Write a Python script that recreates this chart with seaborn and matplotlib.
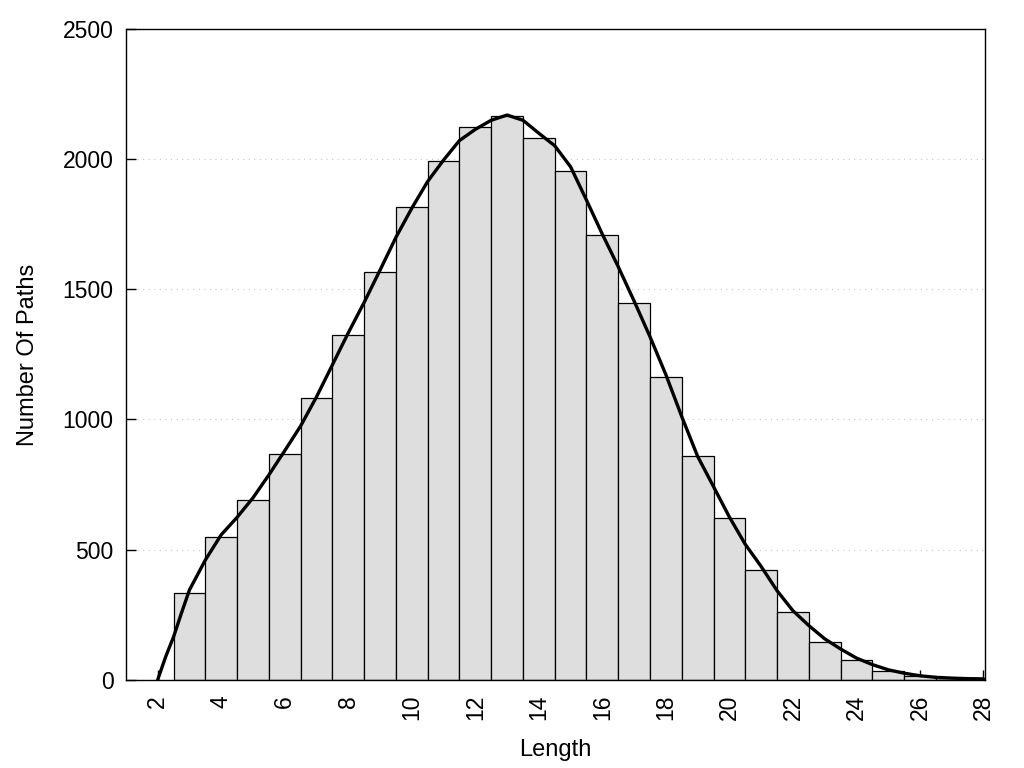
import numpy as np
import pandas as pd
import matplotlib
matplotlib.use("Agg")
import matplotlib.pyplot as plt
import seaborn as sns

# path length histogram (bin centres) and counts
lengths = [3, 4, 5, 6, 7, 8, 9, 10, 11, 12, 13, 14, 15, 16, 17, 18,
           19, 20, 21, 22, 23, 24, 25, 26, 27]
counts = [335, 550, 690, 868, 1082, 1325, 1565, 1815, 1993, 2125, 2168, 2080,
          1955, 1710, 1448, 1165, 858, 620, 420, 260, 145, 77, 32, 13, 5]

# smoothed curve
curve_x = [2, 2.25, 2.5, 2.75, 3, 3.5, 4, 4.5, 5, 5.5, 6, 6.5, 7, 7.5, 8, 8.5,
           9, 9.5, 10, 10.5, 11, 11.5, 12, 12.5, 13, 13.5, 14, 14.5, 15, 15.5,
           16, 16.5, 17, 17.5, 18, 18.5, 19, 19.5, 20, 20.5, 21, 21.5, 22,
           22.5, 23, 23.5, 24, 24.5, 25, 25.5, 26, 26.5, 27, 27.5, 28]
curve_y = [0, 88, 165, 257, 345, 460, 557, 624, 699, 787, 880, 975, 1087, 1210,
           1333, 1450, 1574, 1700, 1812, 1915, 1997, 2072, 2115, 2150, 2170,
           2150, 2100, 2052, 1971, 1843, 1712, 1587, 1455, 1318, 1172, 1011,
           858, 742, 625, 520, 435, 342, 265, 208, 157, 118, 83, 58, 38, 25,
           15, 9, 6, 4, 3]

df = pd.DataFrame({"length": lengths, "count": counts})
curve = pd.DataFrame({"x": curve_x, "y": curve_y})

sns.set_style("white")
plt.rcParams["font.family"] = ["Liberation Sans", "DejaVu Sans"]

fig, ax = plt.subplots(figsize=(10.24, 7.68), dpi=100)
fig.subplots_adjust(left=0.123, right=0.962, top=0.962, bottom=0.115)

ax.bar(df["length"], df["count"], width=1.0, color="#dedede",
       edgecolor="black", linewidth=0.9, zorder=2)
sns.lineplot(data=curve, x="x", y="y", color="black", linewidth=2.4,
             ax=ax, zorder=3)

ax.set_xlim(1, 28.05)
ax.set_ylim(0, 2500)
ax.set_xticks(range(2, 29, 2))
ax.set_yticks(range(0, 2501, 500))
ax.tick_params(axis="x", labelrotation=90, pad=11)
ax.tick_params(axis="y", pad=9)
ax.tick_params(direction="in", length=7, width=1, labelsize=16.5,
               colors="black", bottom=True, left=True, top=False, right=False)
ax.yaxis.grid(True, linestyle=(0, (1, 4)), color="#c8c8c8", linewidth=0.8)
ax.set_axisbelow(True)
for s in ax.spines.values():
    s.set_color("black")
    s.set_linewidth(1)

ax.set_xlabel("Length", fontsize=17, labelpad=13, color="black")
ax.set_ylabel("Number Of Paths", fontsize=17, labelpad=17, color="black")

plt.savefig("out.png", dpi=100)
